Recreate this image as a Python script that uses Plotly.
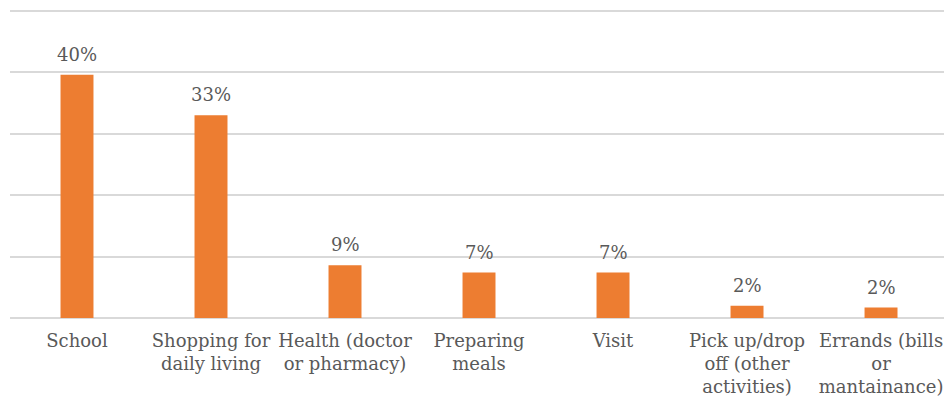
import plotly.graph_objects as go

categories = [
    "School",
    "Shopping for<br>daily living",
    "Health (doctor<br>or pharmacy)",
    "Preparing<br>meals",
    "Visit",
    "Pick up/drop<br>off (other<br>activities)",
    "Errands (bills<br>or<br>mantainance)",
]
values = [39.6, 33.0, 8.6, 7.4, 7.4, 2.0, 1.7]
labels = ["40%", "33%", "9%", "7%", "7%", "2%", "2%"]

FONT = "DejaVu Serif"
GREY = "#595959"

fig = go.Figure()
fig.add_trace(go.Bar(
    x=categories,
    y=values,
    marker=dict(color="#ED7D31", line=dict(width=0)),
    cliponaxis=False,
    hoverinfo="skip",
))

for cat, val, lab in zip(categories, values, labels):
    fig.add_annotation(
        x=cat, y=val, text=lab,
        xref="x", yref="y",
        showarrow=False,
        yanchor="bottom",
        yshift=8,
        font=dict(family=FONT, size=18, color=GREY),
    )

fig.update_layout(
    width=944,
    height=396,
    margin=dict(l=10, r=0, t=4, b=78),
    paper_bgcolor="white",
    plot_bgcolor="white",
    bargap=0.754,
    showlegend=False,
    font=dict(family=FONT, size=18, color=GREY),
)
fig.update_xaxes(
    range=[-0.5, 6.47],
    showgrid=False,
    showline=False,
    tickfont=dict(family=FONT, size=18, color=GREY),
    ticks="outside",
    ticklen=6,
    tickcolor="rgba(0,0,0,0)",
    automargin=False,
    fixedrange=True,
)
fig.update_yaxes(
    range=[0, 51.1],
    dtick=10,
    showticklabels=False,
    showgrid=True,
    gridcolor="#d9d9d9",
    gridwidth=1.5,
    zeroline=True,
    zerolinecolor="#d9d9d9",
    zerolinewidth=1.5,
    showline=False,
    automargin=False,
    fixedrange=True,
)

fig.write_html("out.html")
